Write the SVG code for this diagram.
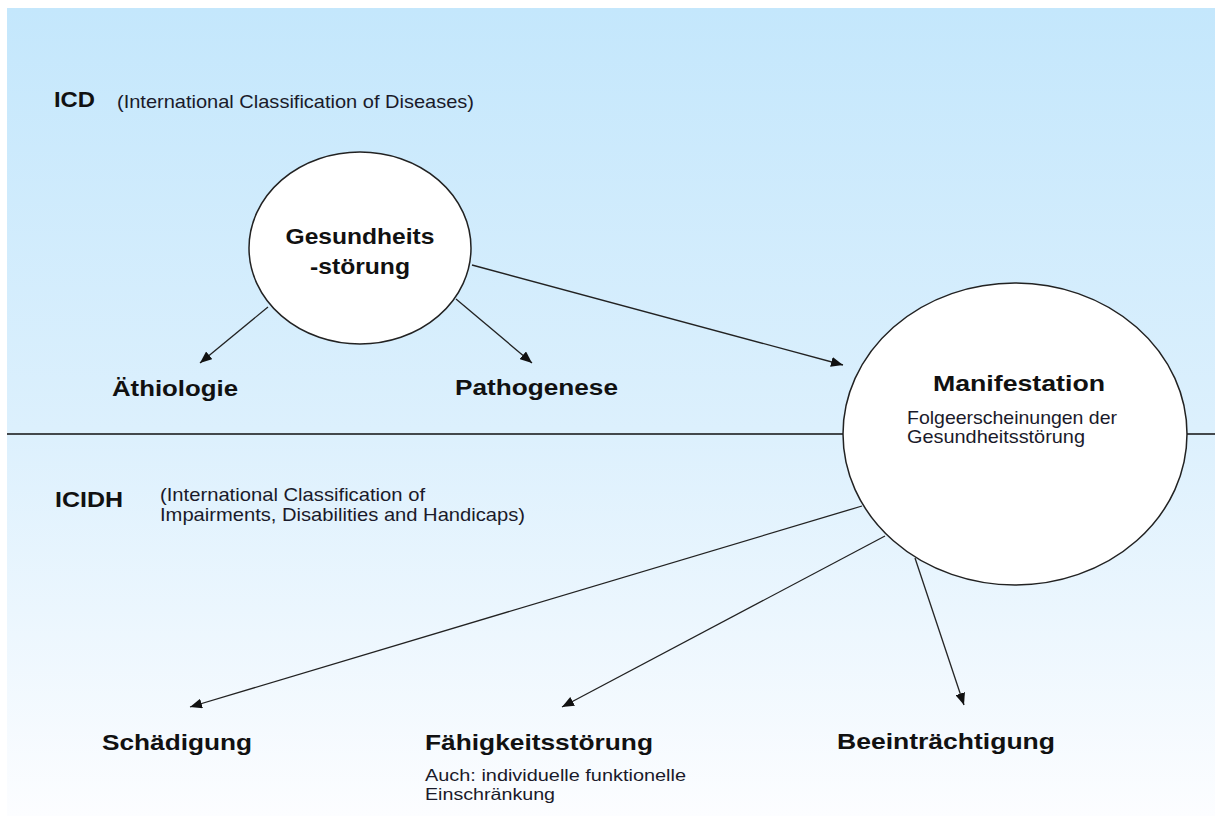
<svg xmlns="http://www.w3.org/2000/svg" width="1215" height="816" viewBox="0 0 1215 816">
<defs>
<linearGradient id="bg" x1="0" y1="0" x2="0" y2="1">
<stop offset="0" stop-color="#C4E7FC"/>
<stop offset="0.52" stop-color="#DCF0FD"/>
<stop offset="1" stop-color="#FCFDFF"/>
</linearGradient>
<marker id="arr" viewBox="0 0 12 10" refX="12" refY="5" markerWidth="12" markerHeight="10" markerUnits="userSpaceOnUse" orient="auto">
<path d="M0,0 L12,5 L0,10 z" fill="#111"/>
</marker>
<style>
.b{font-family:"Liberation Sans",Arial,sans-serif;font-weight:bold;font-size:22px;fill:#111}
.r{font-family:"Liberation Sans",Arial,sans-serif;font-size:18.5px;fill:#1a1a2a}
.s{font-family:"Liberation Sans",Arial,sans-serif;font-size:16.5px;fill:#1a1a2a}
.c{stroke:#222;stroke-width:1.3;fill:none;marker-end:url(#arr)}
.e{fill:#fff;stroke:#222;stroke-width:1.5}
</style>
</defs>
<rect x="0" y="0" width="1215" height="816" fill="#fff"/>
<rect x="7" y="8" width="1208" height="808" fill="url(#bg)"/>
<line x1="7" y1="434" x2="1215" y2="434" stroke="#111" stroke-width="1.5"/>

<g id="icd-label">
<text class="b" x="54" y="107" font-size="23" textLength="41" lengthAdjust="spacingAndGlyphs">ICD</text>
<text class="r" x="117" y="108" textLength="357" lengthAdjust="spacingAndGlyphs">(International Classification of Diseases)</text>
</g>
<g id="icidh-label">
<text class="b" x="55" y="507" textLength="68" lengthAdjust="spacingAndGlyphs">ICIDH</text>
<text class="r" x="160" y="501" textLength="265" lengthAdjust="spacingAndGlyphs">(International Classification of</text>
<text class="r" x="160" y="521" textLength="365" lengthAdjust="spacingAndGlyphs">Impairments, Disabilities and Handicaps)</text>
</g>

<g id="connectors">
<line class="c" x1="268" y1="307" x2="200" y2="363"/>
<line class="c" x1="456" y1="299" x2="532" y2="363"/>
<line class="c" x1="472" y1="265" x2="843" y2="365"/>
<line class="c" x1="862" y1="506" x2="190" y2="707"/>
<line class="c" x1="885" y1="536" x2="562" y2="707"/>
<line class="c" x1="915" y1="558" x2="964" y2="705"/>
</g>

<g id="gesundheitsstoerung">
<ellipse class="e" cx="360" cy="248" rx="111" ry="96"/>
<text class="b" x="360" y="244" text-anchor="middle" textLength="149" lengthAdjust="spacingAndGlyphs">Gesundheits</text>
<text class="b" x="360" y="274" text-anchor="middle" textLength="100" lengthAdjust="spacingAndGlyphs">-störung</text>
</g>
<g id="manifestation">
<ellipse class="e" cx="1015" cy="434" rx="172" ry="151"/>
<text class="b" x="933" y="391" textLength="172" lengthAdjust="spacingAndGlyphs">Manifestation</text>
<text class="r" x="907" y="424" textLength="210" lengthAdjust="spacingAndGlyphs">Folgeerscheinungen der</text>
<text class="r" x="907" y="443" textLength="178" lengthAdjust="spacingAndGlyphs">Gesundheitsstörung</text>
</g>
<g id="aethiologie">
<text class="b" x="112" y="396" textLength="126" lengthAdjust="spacingAndGlyphs">Äthiologie</text>
</g>
<g id="pathogenese">
<text class="b" x="455" y="395" textLength="163" lengthAdjust="spacingAndGlyphs">Pathogenese</text>
</g>
<g id="schaedigung">
<text class="b" x="102" y="750" textLength="150" lengthAdjust="spacingAndGlyphs">Schädigung</text>
</g>
<g id="faehigkeitsstoerung">
<text class="b" x="425" y="750" textLength="228" lengthAdjust="spacingAndGlyphs">Fähigkeitsstörung</text>
<text class="s" x="425" y="781" textLength="261" lengthAdjust="spacingAndGlyphs">Auch: individuelle funktionelle</text>
<text class="s" x="425" y="800" textLength="130" lengthAdjust="spacingAndGlyphs">Einschränkung</text>
</g>
<g id="beeintraechtigung">
<text class="b" x="837" y="749" textLength="218" lengthAdjust="spacingAndGlyphs">Beeinträchtigung</text>
</g>
</svg>
